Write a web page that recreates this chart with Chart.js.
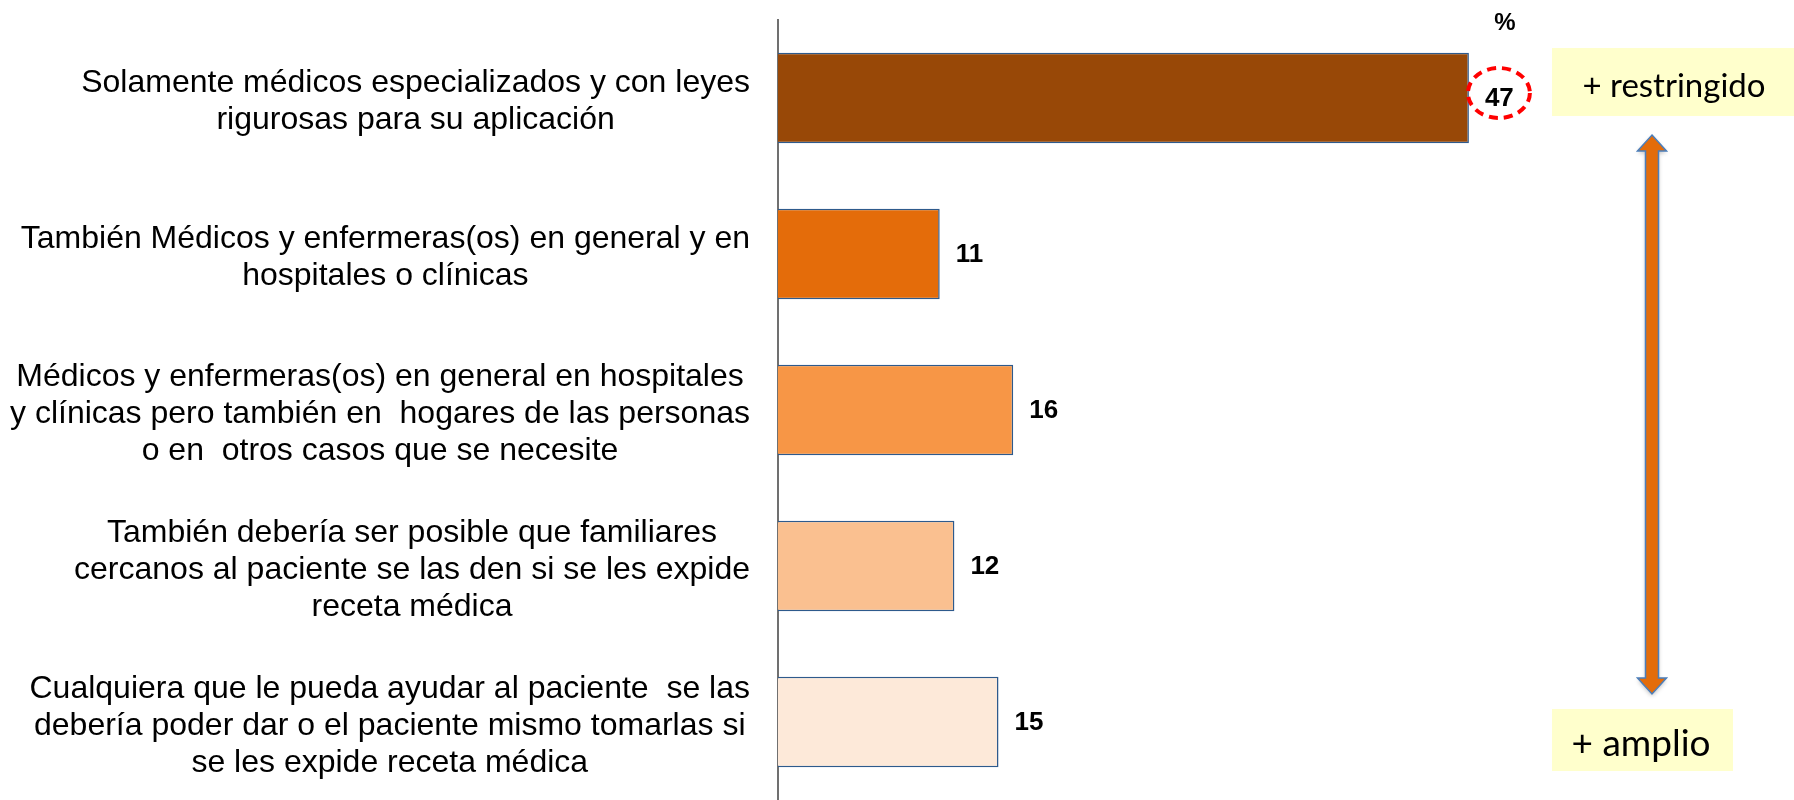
<!DOCTYPE html>
<html>
<head>
<meta charset="utf-8">
<script src="https://cdn.jsdelivr.net/npm/chart.js@4/dist/chart.umd.min.js"></script>
<style>
html,body{margin:0;padding:0;background:#fff;}
#wrap{width:1794px;height:800px;position:relative;}
</style>
</head>
<body>
<div id="wrap"><canvas id="c" width="1794" height="800"></canvas></div>
<script>
const categories = [
  ["Solamente médicos especializados y con leyes", "rigurosas para su aplicación"],
  ["También Médicos y enfermeras(os) en general y en", "hospitales o clínicas"],
  ["Médicos y enfermeras(os) en general en hospitales", "y clínicas pero también en  hogares de las personas", "o en  otros casos que se necesite"],
  ["También debería ser posible que familiares", "cercanos al paciente se las den si se les expide", "receta médica"],
  ["Cualquiera que le pueda ayudar al paciente  se las", "debería poder dar o el paciente mismo tomarlas si", "se les expide receta médica"]
];
const values = [47, 11, 16, 12, 15];
const barColors = ["#984807", "#E46C0A", "#F79646", "#FAC090", "#FDE9D9"];
const unitLabel = "%";
const scaleTop = "+ restringido";
const scaleBottom = "+ amplio";

const LABEL_FONT = '"Liberation Sans", Arial, sans-serif';
const LABEL_SIZE = 32;

// Each category label is a centred text block whose widest line ends at the same right edge
const labelBlocks = {
  id: 'labelBlocks',
  beforeDraw(chart) {
    const s = chart.scales.y;
    if (!s || typeof s.getLabelItems !== 'function') return;
    const items = s.getLabelItems(chart.chartArea);
    const ctx = chart.ctx;
    ctx.save();
    ctx.font = LABEL_SIZE + 'px ' + LABEL_FONT;
    const rightEdge = s.right - 28;
    items.forEach(it => {
      const lines = Array.isArray(it.label) ? it.label : [it.label];
      const w = Math.max(...lines.map(l => ctx.measureText(l).width));
      if (it.options && it.options.translation) {
        it.options.translation[0] = rightEdge - w / 2;
        it.options.translation[1] += 4;
      }
    });
    ctx.restore();
  }
};

const overlay = {
  id: 'overlay',
  afterDatasetsDraw(chart) {
    const ctx = chart.ctx;
    const meta = chart.getDatasetMeta(0);
    ctx.save();
    ctx.fillStyle = '#000';
    ctx.font = 'bold 26px "Liberation Sans", Arial, sans-serif';
    ctx.textAlign = 'left';
    ctx.textBaseline = 'middle';
    meta.data.forEach((el, i) => {
      ctx.fillText(String(values[i]), el.x + 16, el.y + 1);
    });
    // highlight ellipse on first value
    const e0 = meta.data[0];
    ctx.beginPath();
    ctx.ellipse(e0.x + 30, e0.y - 5, 31, 25, 0, 0, Math.PI * 2);
    ctx.strokeStyle = '#FF0000';
    ctx.lineWidth = 4;
    ctx.setLineDash([9, 6]);
    ctx.stroke();
    ctx.setLineDash([]);
    // percent sign
    ctx.font = 'bold 24px "Liberation Sans", Arial, sans-serif';
    ctx.textAlign = 'center';
    ctx.fillText(unitLabel, 1505, 23);
    // boxes
    ctx.fillStyle = '#FFFFCC';
    ctx.fillRect(1552, 48, 242, 68);
    ctx.fillRect(1552, 709, 181, 62);
    ctx.fillStyle = '#000';
    ctx.textBaseline = 'alphabetic';
    ctx.font = '33px Lato, "Open Sans", sans-serif';
    ctx.fillText(scaleTop, 1674, 97);
    ctx.font = '37px Lato, "Open Sans", sans-serif';
    ctx.fillText(scaleBottom, 1641, 756);
    // double arrow
    const ax = 1652, top = 135, bot = 694, sw = 6.5, hw = 14.5, hl = 16;
    ctx.beginPath();
    ctx.moveTo(ax, top);
    ctx.lineTo(ax + hw, top + hl);
    ctx.lineTo(ax + sw, top + hl);
    ctx.lineTo(ax + sw, bot - hl);
    ctx.lineTo(ax + hw, bot - hl);
    ctx.lineTo(ax, bot);
    ctx.lineTo(ax - hw, bot - hl);
    ctx.lineTo(ax - sw, bot - hl);
    ctx.lineTo(ax - sw, top + hl);
    ctx.lineTo(ax - hw, top + hl);
    ctx.closePath();
    ctx.shadowColor = 'rgba(0,0,0,0.25)';
    ctx.shadowBlur = 4;
    ctx.shadowOffsetY = 2;
    ctx.fillStyle = '#E36C0A';
    ctx.fill();
    ctx.shadowColor = 'transparent';
    ctx.strokeStyle = '#4A7EBB';
    ctx.lineWidth = 1.5;
    ctx.stroke();
    ctx.restore();
  }
};

new Chart(document.getElementById('c'), {
  type: 'bar',
  data: {
    labels: categories,
    datasets: [{
      data: values,
      backgroundColor: barColors,
      borderColor: '#2E5A8C',
      borderWidth: 1.5,
      barPercentage: 0.58,
      categoryPercentage: 1.0
    }]
  },
  options: {
    indexAxis: 'y',
    responsive: false,
    animation: false,
    layout: { padding: { left: 0, right: 281, top: 20, bottom: 0 } },
    plugins: { legend: { display: false }, tooltip: { enabled: false } },
    scales: {
      x: { display: false, min: 0, max: 50 },
      y: {
        grid: { display: false, drawTicks: false },
        border: { display: true, color: '#707070', width: 2 },
        ticks: {
          autoSkip: false,
          crossAlign: 'center',
          padding: 20,
          color: '#000',
          font: { family: LABEL_FONT, size: LABEL_SIZE, lineHeight: 1.15 }
        },
        afterFit(s) { s.width = 778; s.paddingTop = 0; s.paddingBottom = 0; }
      }
    }
  },
  plugins: [labelBlocks, overlay]
});
</script>
</body>
</html>
